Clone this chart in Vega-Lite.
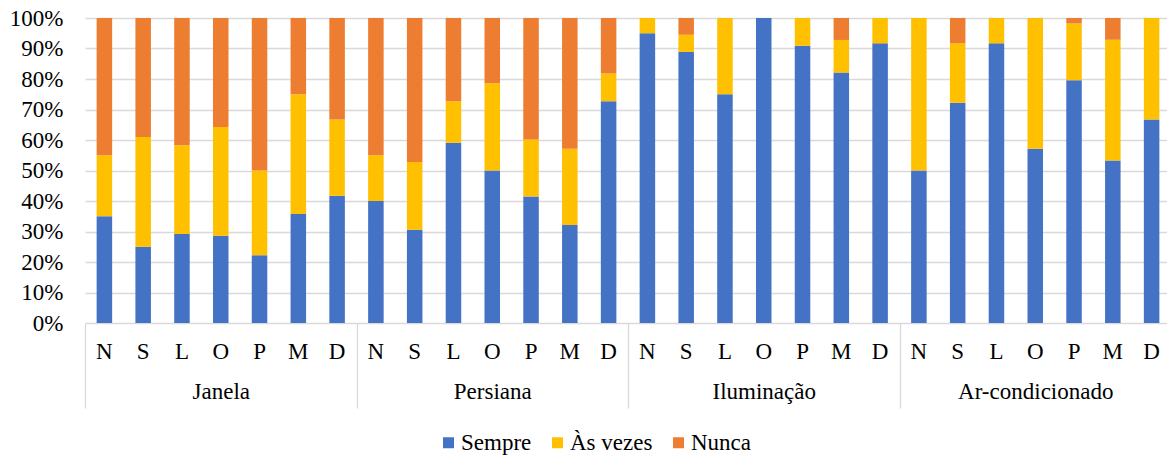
{
  "$schema": "https://vega.github.io/schema/vega-lite/v6.json",
  "width": 1086,
  "height": 305,
  "autosize": {"type": "none"},
  "padding": {"left": 85, "top": 18, "right": 0, "bottom": 134},
  "background": "white",
  "config": {
    "view": {"stroke": null},
    "font": "Liberation Serif",
    "axis": {"labelFont": "Liberation Serif", "labelColor": "#000000", "labelFontSize": 23},
    "legend": {"labelFont": "Liberation Serif", "labelFontSize": 23, "labelColor": "#000000"}
  },
  "data": {
    "values": [
      {"grupo": "Janela", "barra": "Janela|N", "resposta": "Sempre", "ordem": 1, "valor": 35},
      {"grupo": "Janela", "barra": "Janela|N", "resposta": "Às vezes", "ordem": 2, "valor": 20},
      {"grupo": "Janela", "barra": "Janela|N", "resposta": "Nunca", "ordem": 3, "valor": 45},
      {"grupo": "Janela", "barra": "Janela|S", "resposta": "Sempre", "ordem": 1, "valor": 25},
      {"grupo": "Janela", "barra": "Janela|S", "resposta": "Às vezes", "ordem": 2, "valor": 36},
      {"grupo": "Janela", "barra": "Janela|S", "resposta": "Nunca", "ordem": 3, "valor": 39},
      {"grupo": "Janela", "barra": "Janela|L", "resposta": "Sempre", "ordem": 1, "valor": 29.2},
      {"grupo": "Janela", "barra": "Janela|L", "resposta": "Às vezes", "ordem": 2, "valor": 29.1},
      {"grupo": "Janela", "barra": "Janela|L", "resposta": "Nunca", "ordem": 3, "valor": 41.7},
      {"grupo": "Janela", "barra": "Janela|O", "resposta": "Sempre", "ordem": 1, "valor": 28.6},
      {"grupo": "Janela", "barra": "Janela|O", "resposta": "Às vezes", "ordem": 2, "valor": 35.7},
      {"grupo": "Janela", "barra": "Janela|O", "resposta": "Nunca", "ordem": 3, "valor": 35.7},
      {"grupo": "Janela", "barra": "Janela|P", "resposta": "Sempre", "ordem": 1, "valor": 22.2},
      {"grupo": "Janela", "barra": "Janela|P", "resposta": "Às vezes", "ordem": 2, "valor": 27.8},
      {"grupo": "Janela", "barra": "Janela|P", "resposta": "Nunca", "ordem": 3, "valor": 50},
      {"grupo": "Janela", "barra": "Janela|M", "resposta": "Sempre", "ordem": 1, "valor": 35.7},
      {"grupo": "Janela", "barra": "Janela|M", "resposta": "Às vezes", "ordem": 2, "valor": 39.3},
      {"grupo": "Janela", "barra": "Janela|M", "resposta": "Nunca", "ordem": 3, "valor": 25},
      {"grupo": "Janela", "barra": "Janela|D", "resposta": "Sempre", "ordem": 1, "valor": 41.7},
      {"grupo": "Janela", "barra": "Janela|D", "resposta": "Às vezes", "ordem": 2, "valor": 25},
      {"grupo": "Janela", "barra": "Janela|D", "resposta": "Nunca", "ordem": 3, "valor": 33.3},
      {"grupo": "Persiana", "barra": "Persiana|N", "resposta": "Sempre", "ordem": 1, "valor": 40},
      {"grupo": "Persiana", "barra": "Persiana|N", "resposta": "Às vezes", "ordem": 2, "valor": 15},
      {"grupo": "Persiana", "barra": "Persiana|N", "resposta": "Nunca", "ordem": 3, "valor": 45},
      {"grupo": "Persiana", "barra": "Persiana|S", "resposta": "Sempre", "ordem": 1, "valor": 30.6},
      {"grupo": "Persiana", "barra": "Persiana|S", "resposta": "Às vezes", "ordem": 2, "valor": 22.2},
      {"grupo": "Persiana", "barra": "Persiana|S", "resposta": "Nunca", "ordem": 3, "valor": 47.2},
      {"grupo": "Persiana", "barra": "Persiana|L", "resposta": "Sempre", "ordem": 1, "valor": 59.1},
      {"grupo": "Persiana", "barra": "Persiana|L", "resposta": "Às vezes", "ordem": 2, "valor": 13.6},
      {"grupo": "Persiana", "barra": "Persiana|L", "resposta": "Nunca", "ordem": 3, "valor": 27.3},
      {"grupo": "Persiana", "barra": "Persiana|O", "resposta": "Sempre", "ordem": 1, "valor": 50},
      {"grupo": "Persiana", "barra": "Persiana|O", "resposta": "Às vezes", "ordem": 2, "valor": 28.6},
      {"grupo": "Persiana", "barra": "Persiana|O", "resposta": "Nunca", "ordem": 3, "valor": 21.4},
      {"grupo": "Persiana", "barra": "Persiana|P", "resposta": "Sempre", "ordem": 1, "valor": 41.5},
      {"grupo": "Persiana", "barra": "Persiana|P", "resposta": "Às vezes", "ordem": 2, "valor": 18.7},
      {"grupo": "Persiana", "barra": "Persiana|P", "resposta": "Nunca", "ordem": 3, "valor": 39.8},
      {"grupo": "Persiana", "barra": "Persiana|M", "resposta": "Sempre", "ordem": 1, "valor": 32.1},
      {"grupo": "Persiana", "barra": "Persiana|M", "resposta": "Às vezes", "ordem": 2, "valor": 25},
      {"grupo": "Persiana", "barra": "Persiana|M", "resposta": "Nunca", "ordem": 3, "valor": 42.9},
      {"grupo": "Persiana", "barra": "Persiana|D", "resposta": "Sempre", "ordem": 1, "valor": 72.7},
      {"grupo": "Persiana", "barra": "Persiana|D", "resposta": "Às vezes", "ordem": 2, "valor": 9.1},
      {"grupo": "Persiana", "barra": "Persiana|D", "resposta": "Nunca", "ordem": 3, "valor": 18.2},
      {"grupo": "Iluminação", "barra": "Iluminação|N", "resposta": "Sempre", "ordem": 1, "valor": 95},
      {"grupo": "Iluminação", "barra": "Iluminação|N", "resposta": "Às vezes", "ordem": 2, "valor": 5},
      {"grupo": "Iluminação", "barra": "Iluminação|N", "resposta": "Nunca", "ordem": 3, "valor": 0},
      {"grupo": "Iluminação", "barra": "Iluminação|S", "resposta": "Sempre", "ordem": 1, "valor": 88.9},
      {"grupo": "Iluminação", "barra": "Iluminação|S", "resposta": "Às vezes", "ordem": 2, "valor": 5.6},
      {"grupo": "Iluminação", "barra": "Iluminação|S", "resposta": "Nunca", "ordem": 3, "valor": 5.5},
      {"grupo": "Iluminação", "barra": "Iluminação|L", "resposta": "Sempre", "ordem": 1, "valor": 75},
      {"grupo": "Iluminação", "barra": "Iluminação|L", "resposta": "Às vezes", "ordem": 2, "valor": 25},
      {"grupo": "Iluminação", "barra": "Iluminação|L", "resposta": "Nunca", "ordem": 3, "valor": 0},
      {"grupo": "Iluminação", "barra": "Iluminação|O", "resposta": "Sempre", "ordem": 1, "valor": 100},
      {"grupo": "Iluminação", "barra": "Iluminação|O", "resposta": "Às vezes", "ordem": 2, "valor": 0},
      {"grupo": "Iluminação", "barra": "Iluminação|O", "resposta": "Nunca", "ordem": 3, "valor": 0},
      {"grupo": "Iluminação", "barra": "Iluminação|P", "resposta": "Sempre", "ordem": 1, "valor": 90.9},
      {"grupo": "Iluminação", "barra": "Iluminação|P", "resposta": "Às vezes", "ordem": 2, "valor": 9.1},
      {"grupo": "Iluminação", "barra": "Iluminação|P", "resposta": "Nunca", "ordem": 3, "valor": 0},
      {"grupo": "Iluminação", "barra": "Iluminação|M", "resposta": "Sempre", "ordem": 1, "valor": 82.1},
      {"grupo": "Iluminação", "barra": "Iluminação|M", "resposta": "Às vezes", "ordem": 2, "valor": 10.7},
      {"grupo": "Iluminação", "barra": "Iluminação|M", "resposta": "Nunca", "ordem": 3, "valor": 7.2},
      {"grupo": "Iluminação", "barra": "Iluminação|D", "resposta": "Sempre", "ordem": 1, "valor": 91.7},
      {"grupo": "Iluminação", "barra": "Iluminação|D", "resposta": "Às vezes", "ordem": 2, "valor": 8.3},
      {"grupo": "Iluminação", "barra": "Iluminação|D", "resposta": "Nunca", "ordem": 3, "valor": 0},
      {"grupo": "Ar-condicionado", "barra": "Ar-condicionado|N", "resposta": "Sempre", "ordem": 1, "valor": 50},
      {"grupo": "Ar-condicionado", "barra": "Ar-condicionado|N", "resposta": "Às vezes", "ordem": 2, "valor": 50},
      {"grupo": "Ar-condicionado", "barra": "Ar-condicionado|N", "resposta": "Nunca", "ordem": 3, "valor": 0},
      {"grupo": "Ar-condicionado", "barra": "Ar-condicionado|S", "resposta": "Sempre", "ordem": 1, "valor": 72.2},
      {"grupo": "Ar-condicionado", "barra": "Ar-condicionado|S", "resposta": "Às vezes", "ordem": 2, "valor": 19.5},
      {"grupo": "Ar-condicionado", "barra": "Ar-condicionado|S", "resposta": "Nunca", "ordem": 3, "valor": 8.3},
      {"grupo": "Ar-condicionado", "barra": "Ar-condicionado|L", "resposta": "Sempre", "ordem": 1, "valor": 91.7},
      {"grupo": "Ar-condicionado", "barra": "Ar-condicionado|L", "resposta": "Às vezes", "ordem": 2, "valor": 8.3},
      {"grupo": "Ar-condicionado", "barra": "Ar-condicionado|L", "resposta": "Nunca", "ordem": 3, "valor": 0},
      {"grupo": "Ar-condicionado", "barra": "Ar-condicionado|O", "resposta": "Sempre", "ordem": 1, "valor": 57.1},
      {"grupo": "Ar-condicionado", "barra": "Ar-condicionado|O", "resposta": "Às vezes", "ordem": 2, "valor": 42.9},
      {"grupo": "Ar-condicionado", "barra": "Ar-condicionado|O", "resposta": "Nunca", "ordem": 3, "valor": 0},
      {"grupo": "Ar-condicionado", "barra": "Ar-condicionado|P", "resposta": "Sempre", "ordem": 1, "valor": 79.6},
      {"grupo": "Ar-condicionado", "barra": "Ar-condicionado|P", "resposta": "Às vezes", "ordem": 2, "valor": 18.6},
      {"grupo": "Ar-condicionado", "barra": "Ar-condicionado|P", "resposta": "Nunca", "ordem": 3, "valor": 1.8},
      {"grupo": "Ar-condicionado", "barra": "Ar-condicionado|M", "resposta": "Sempre", "ordem": 1, "valor": 53.3},
      {"grupo": "Ar-condicionado", "barra": "Ar-condicionado|M", "resposta": "Às vezes", "ordem": 2, "valor": 39.6},
      {"grupo": "Ar-condicionado", "barra": "Ar-condicionado|M", "resposta": "Nunca", "ordem": 3, "valor": 7.1},
      {"grupo": "Ar-condicionado", "barra": "Ar-condicionado|D", "resposta": "Sempre", "ordem": 1, "valor": 66.7},
      {"grupo": "Ar-condicionado", "barra": "Ar-condicionado|D", "resposta": "Às vezes", "ordem": 2, "valor": 33.3},
      {"grupo": "Ar-condicionado", "barra": "Ar-condicionado|D", "resposta": "Nunca", "ordem": 3, "valor": 0}
    ]
  },
  "layer": [
    {
      "mark": {"type": "bar"},
      "encoding": {
        "x": {
          "field": "barra",
          "type": "nominal",
          "sort": null,
          "scale": {"paddingInner": 0.6, "paddingOuter": 0.3},
          "axis": {
            "orient": "bottom",
            "title": null,
            "labelAngle": 0,
            "labelExpr": "split(datum.label, '|')[1]",
            "labelFont": "Liberation Serif",
            "labelFontSize": 23,
            "ticks": false,
            "domain": false,
            "labelPadding": 17,
            "labelBaseline": "top"
          }
        },
        "y": {
          "field": "valor",
          "type": "quantitative",
          "stack": "normalize",
          "scale": {"domain": [0, 1]},
          "axis": {
            "title": null,
            "format": ".0%",
            "values": [0, 0.1, 0.2, 0.3, 0.4, 0.5, 0.6, 0.7, 0.8, 0.9, 1],
            "labelFont": "Liberation Serif",
            "labelFontSize": 23,
            "domain": false,
            "ticks": false,
            "labelPadding": 22,
            "gridColor": "#d9d9d9",
            "gridWidth": 1.3
          }
        },
        "color": {
          "field": "resposta",
          "type": "nominal",
          "sort": ["Sempre", "Às vezes", "Nunca"],
          "scale": {"domain": ["Sempre", "Às vezes", "Nunca"], "range": ["#4472C4", "#FFC000", "#ED7D31"]},
          "legend": {
            "title": null,
            "orient": "none",
            "legendX": 352,
            "legendY": 413,
            "padding": 0,
            "direction": "horizontal",
            "labelFont": "Liberation Serif",
            "labelFontSize": 23,
            "symbolType": "square",
            "symbolSize": 121,
            "symbolStrokeWidth": 0,
            "columnPadding": 14,
            "labelOffset": 1
          }
        },
        "order": {"field": "ordem", "type": "quantitative", "sort": "ascending"}
      }
    },
    {
      "mark": {"type": "rule", "opacity": 0},
      "encoding": {
        "x": {
          "field": "grupo",
          "type": "nominal",
          "sort": null,
          "scale": {"paddingInner": 0, "paddingOuter": 0},
          "axis": {
            "orient": "bottom",
            "title": null,
            "labelAngle": 0,
            "labelFont": "Liberation Serif",
            "labelFontSize": 23,
            "domain": false,
            "tickBand": "extent",
            "tickSize": 85,
            "tickColor": "#d9d9d9",
            "tickWidth": 1.3,
            "labelPadding": -28,
            "labelBaseline": "top",
            "grid": false
          }
        }
      }
    }
  ],
  "resolve": {"scale": {"x": "independent"}, "axis": {"x": "independent"}}
}
